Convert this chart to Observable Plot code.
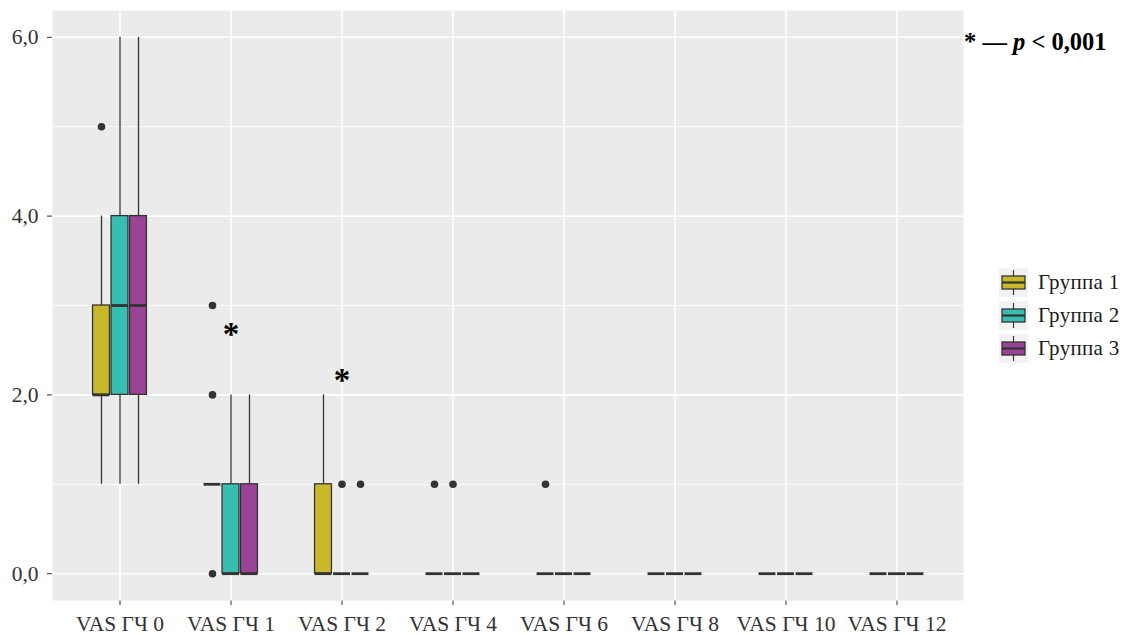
<!DOCTYPE html>
<html>
<head>
<meta charset="utf-8">
<script src="https://cdn.jsdelivr.net/npm/d3@7"></script>
<script src="https://cdn.jsdelivr.net/npm/@observablehq/plot@0.6"></script>
<style>
  html, body { margin: 0; padding: 0; background: #fff; }
  #wrap { position: relative; width: 1126px; height: 635px; font-family: "Liberation Serif", "Times New Roman", serif; }
  #legend { position: absolute; left: 999px; top: 266px; }
  .row { display: flex; align-items: center; height: 33px; }
  .row span { margin-left: 10px; font-size: 21px; letter-spacing: 0.3px; color: #1a1a1a; }
  #note { position: absolute; left: 964px; top: 28px; font-size: 24.5px; font-weight: bold; color: #000; white-space: nowrap; }
</style>
</head>
<body>
<div id="wrap">
  <div id="chart"></div>
  <div id="legend"></div>
  <div id="note">* — <i>p</i> &lt; 0,001</div>
</div>
<script>
// ---- data ----
const categories = ["VAS ГЧ 0", "VAS ГЧ 1", "VAS ГЧ 2", "VAS ГЧ 4", "VAS ГЧ 6", "VAS ГЧ 8", "VAS ГЧ 10", "VAS ГЧ 12"];
const groups = ["Группа 1", "Группа 2", "Группа 3"];
const groupColors = ["#C8B92B", "#36BFB0", "#9A4497"];
// box statistics per group, indexed by category
const whiskerLow = [
  [1, 1, 0, 0, 0, 0, 0, 0],
  [1, 0, 0, 0, 0, 0, 0, 0],
  [1, 0, 0, 0, 0, 0, 0, 0]
];
const quartile1 = [
  [2, 1, 0, 0, 0, 0, 0, 0],
  [2, 0, 0, 0, 0, 0, 0, 0],
  [2, 0, 0, 0, 0, 0, 0, 0]
];
const medians = [
  [2, 1, 0, 0, 0, 0, 0, 0],
  [3, 0, 0, 0, 0, 0, 0, 0],
  [3, 0, 0, 0, 0, 0, 0, 0]
];
const quartile3 = [
  [3, 1, 1, 0, 0, 0, 0, 0],
  [4, 1, 0, 0, 0, 0, 0, 0],
  [4, 1, 0, 0, 0, 0, 0, 0]
];
const whiskerHigh = [
  [4, 1, 2, 0, 0, 0, 0, 0],
  [6, 2, 0, 0, 0, 0, 0, 0],
  [6, 2, 0, 0, 0, 0, 0, 0]
];
const outlierGroup = [0, 0, 0, 0, 1, 2, 0, 1, 0];
const outlierCat = ["VAS ГЧ 0", "VAS ГЧ 1", "VAS ГЧ 1", "VAS ГЧ 1", "VAS ГЧ 2", "VAS ГЧ 2", "VAS ГЧ 4", "VAS ГЧ 4", "VAS ГЧ 6"];
const outlierValue = [5, 3, 2, 0, 1, 1, 1, 1, 1];
const starCats = ["VAS ГЧ 1", "VAS ГЧ 2"];
const starY = [2.7, 2.18];
const yTicks = [0, 2, 4, 6];
const yMinor = [1, 3, 5];

// ---- layout ----
const W = 1126, H = 635;
const mL = 52, mR = 163, mT = 10, mB = 35;
const plotW = W - mL - mR;
const band = plotW / (categories.length + 0.2);
const boxW = 17, step = 18.5;
const inset = (band - boxW) / 2;
const ink = "#333333";

const rows = [];
groups.forEach((g, gi) => categories.forEach((c, ci) => rows.push({
  cat: c, group: gi,
  lo: whiskerLow[gi][ci], q1: quartile1[gi][ci], med: medians[gi][ci],
  q3: quartile3[gi][ci], hi: whiskerHigh[gi][ci]
})));
const outliers = outlierValue.map((v, i) => ({cat: outlierCat[i], group: outlierGroup[i], value: v}));
const stars = starCats.map((c, i) => ({cat: c, y: starY[i]}));

const marks = [
  Plot.frame({fill: "#EBEBEB", stroke: null}),
  Plot.ruleY(yMinor, {stroke: "#fff", strokeWidth: 0.8}),
  Plot.ruleY(yTicks, {stroke: "#fff", strokeWidth: 1.6}),
  Plot.ruleX(categories, {stroke: "#fff", strokeWidth: 1.6})
];
groups.forEach((g, gi) => {
  const d = rows.filter(r => r.group === gi);
  const dx = (gi - 1) * step;
  marks.push(
    Plot.ruleX(d, {x: "cat", y1: "lo", y2: "q1", dx, stroke: ink, strokeWidth: 1.3}),
    Plot.ruleX(d, {x: "cat", y1: "q3", y2: "hi", dx, stroke: ink, strokeWidth: 1.3}),
    Plot.barY(d.filter(r => r.q3 > r.q1), {x: "cat", y1: "q1", y2: "q3", dx, insetLeft: inset, insetRight: inset,
      fill: groupColors[gi], stroke: ink, strokeWidth: 1.3}),
    Plot.tickY(d, {x: "cat", y: "med", dx, insetLeft: inset, insetRight: inset, stroke: ink, strokeWidth: 2.8}),
    Plot.dot(outliers.filter(o => o.group === gi), {x: "cat", y: "value", dx, r: 3.8, fill: ink, stroke: null})
  );
});
marks.push(Plot.text(stars, {x: "cat", y: "y", text: () => "*", fontSize: 33, fontWeight: "bold", fill: "#000", dy: 2}));

const chart = Plot.plot({
  width: W, height: H,
  marginLeft: mL, marginRight: mR, marginTop: mT, marginBottom: mB,
  style: {fontFamily: "Liberation Serif, Times New Roman, serif", fontSize: "21.5px", color: "#333", background: "#fff"},
  x: {type: "band", domain: categories, paddingInner: 0, paddingOuter: 0.1, tickSize: 5, tickPadding: 10, label: null},
  y: {domain: [-0.3, 6.3], ticks: yTicks, tickFormat: d => d.toFixed(1).replace(".", ","), tickSize: 5, tickPadding: 9, label: null},
  marks
});
document.getElementById("chart").appendChild(chart);

// ---- legend ----
const legend = document.getElementById("legend");
groups.forEach((g, gi) => {
  const row = document.createElement("div");
  row.className = "row";
  row.innerHTML = `<svg width="29" height="29" viewBox="0 0 29 29">
    <rect x="0" y="0" width="29" height="29" fill="#F2F2F2"/>
    <line x1="14.5" y1="2" x2="14.5" y2="27" stroke="${ink}" stroke-width="1.2"/>
    <rect x="3" y="8" width="23" height="13" fill="${groupColors[gi]}" stroke="${ink}" stroke-width="1.3"/>
    <line x1="3" y1="14.5" x2="26" y2="14.5" stroke="${ink}" stroke-width="2.2"/>
  </svg><span>${g}</span>`;
  legend.appendChild(row);
});
</script>
</body>
</html>
